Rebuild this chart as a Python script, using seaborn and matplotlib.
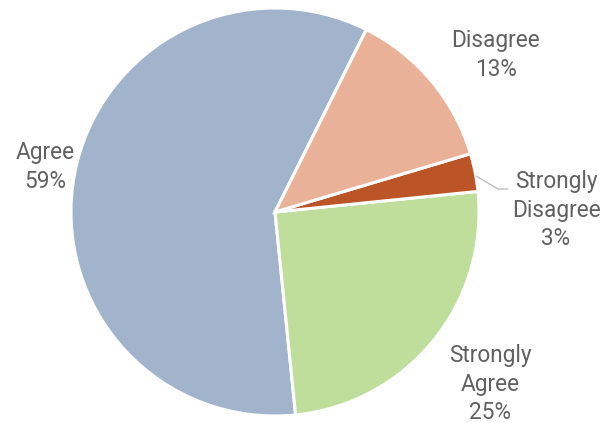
import numpy as np
import matplotlib
matplotlib.use('Agg')
import matplotlib.pyplot as plt
import seaborn as sns

# Data
categories = ['Agree', 'Strongly Agree', 'Strongly Disagree', 'Disagree']
shares = [59, 25, 3, 13]
colors = ['#A2B4CB', '#BFDD9B', '#BB5527', '#E9B298']

sns.set_style('white')
plt.rcParams['font.family'] = ['Roboto', 'DejaVu Sans']

fig = plt.figure(figsize=(6.05, 4.23), dpi=100)
ax = fig.add_axes([0, 0, 1, 1])

# pie, counterclockwise starting at the Agree/Disagree boundary
ax.pie(shares, colors=colors, startangle=63.4, counterclock=True,
       radius=1.0, center=(0, 0),
       wedgeprops=dict(edgecolor='white', linewidth=2.2))

# pixel -> data helper (center at 275,212, radius 204 px)
def pos(px, py):
    return (px - 275) / 204, (212 - py) / 204

label_pos = {
    'Agree': (45, 167),
    'Strongly Agree': (490, 384),
    'Strongly Disagree': (556, 210),
    'Disagree': (496, 55),
}
label_text = {
    'Agree': 'Agree',
    'Strongly Agree': 'Strongly\nAgree',
    'Strongly Disagree': 'Strongly\nDisagree',
    'Disagree': 'Disagree',
}
for cat, val in zip(categories, shares):
    x, y = pos(*label_pos[cat])
    ax.text(x, y, f'{label_text[cat]}\n{val}%', ha='center', va='center',
            fontsize=16.3, color='#616161', linespacing=1.3)

# leader line for the small slice
p0, p1, p2 = pos(476, 176), pos(498, 189), pos(508, 189)
ax.plot([p0[0], p1[0], p2[0]], [p0[1], p1[1], p2[1]], color='#BFBFBF', lw=1)

ax.set_xlim(-275 / 204, (605 - 275) / 204)
ax.set_ylim(-(423 - 212) / 204, 212 / 204)
ax.axis('off')

fig.savefig('out.png', dpi=100)
